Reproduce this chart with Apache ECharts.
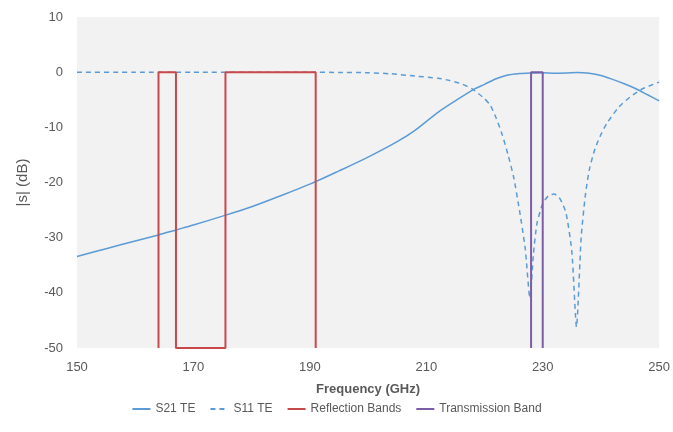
<!DOCTYPE html>
<html>
<head>
<meta charset="utf-8">
<script src="https://cdn.jsdelivr.net/npm/echarts@6/dist/echarts.min.js"></script>
<style>
html,body{margin:0;padding:0;background:#fff;}
#c{width:673px;height:432px;}
</style>
</head>
<body>
<div id="c"></div>
<script>
// Frequency (GHz) and |S| (dB) values
var s21Freq = [150,155,160,164,167,170,175,180,185,190,195,200,205,208,212,215,218,220,222,224,226,228,230,232,234,236,238,240,242,244,246,248,250];
var s21Val  = [-33.4,-32.0,-30.6,-29.5,-28.6,-27.7,-26.1,-24.4,-22.4,-20.3,-17.9,-15.4,-12.6,-10.6,-7.3,-5.2,-3.2,-2.2,-1.2,-0.5,-0.25,-0.15,-0.1,-0.2,-0.15,-0.05,-0.2,-0.6,-1.3,-2.1,-3.0,-4.1,-5.2];

var s11Freq = [150,160,170,180,190,195,200,204,208,212,214,216,218,220,221,222,223,224,225,226,227,227.8,228.4,229,230,231,232,233,234,235,235.8,236.6,237.3,238,239,240,241,243,245,247,249,250];
var s11Val  = [0,0,0,0,0,-0.05,-0.1,-0.3,-0.7,-1.1,-1.5,-2.1,-3.1,-4.8,-6.0,-8.3,-11.2,-14.8,-19.0,-25.0,-32.0,-41.0,-33.0,-27.5,-23.8,-22.4,-22.1,-23.0,-25.5,-32.5,-46.2,-30.0,-22.5,-17.7,-13.8,-11.3,-9.3,-6.4,-4.5,-3.1,-2.2,-1.8];

var reflFreq = [164,164,167,167,175.5,175.5,191,191];
var reflVal  = [-50,0,0,-50,-50,0,0,-50];

var transFreq = [228,228,230,230];
var transVal  = [-50,0,0,-50];

var xTicks = [150,170,190,210,230,250];
var yTicks = [-50,-40,-30,-20,-10,0,10];

function pairs(xs, ys){ return xs.map(function(x,i){ return [x, ys[i]]; }); }

var font = 'Liberation Sans';
var legendNames = ['S21 TE','S11 TE','Reflection Bands','Transmission Band'];
var chart = echarts.init(document.getElementById('c'), null, {renderer:'canvas'});
chart.setOption({
  backgroundColor:'#ffffff',
  animation:false,
  textStyle:{fontFamily:font},
  grid:{left:77,right:13,top:17,bottom:84,show:true,backgroundColor:'#f2f2f2',borderWidth:0},
  xAxis:{
    type:'value', min:xTicks[0], max:xTicks[xTicks.length-1], interval:20,
    name:'Frequency (GHz)', nameLocation:'middle', nameGap:35, nameMoveOverlap:false,
    nameTextStyle:{color:'#595959',fontSize:13,fontWeight:'bold',fontFamily:font},
    axisLine:{show:false}, axisTick:{show:false}, splitLine:{show:false},
    axisLabel:{color:'#595959',fontSize:13,margin:13,fontFamily:font}
  },
  yAxis:{
    type:'value', min:yTicks[0], max:yTicks[yTicks.length-1], interval:10,
    name:'|s| (dB)', nameLocation:'middle', nameGap:47, nameRotate:90, nameMoveOverlap:false,
    nameTextStyle:{color:'#595959',fontSize:15,fontFamily:font},
    axisLine:{show:false}, axisTick:{show:false}, splitLine:{show:false},
    axisLabel:{color:'#595959',fontSize:13,margin:14,fontFamily:font}
  },
  legend:{
    bottom:12, left:'center', itemWidth:18, itemHeight:10, itemGap:14,
    textStyle:{color:'#595959',fontSize:12,fontFamily:font},
    itemStyle:{opacity:0},
    data:legendNames.map(function(n){ return {name:n, itemStyle:{opacity:0}}; })
  },
  series:[
    {name:'S21 TE', type:'line', data:pairs(s21Freq,s21Val), smooth:0.3, symbol:'none',
     lineStyle:{color:'#5b9bd5',width:1.5}, itemStyle:{color:'#5b9bd5'}},
    {name:'S11 TE', type:'line', data:pairs(s11Freq,s11Val), smooth:0.2, symbol:'none',
     lineStyle:{color:'#5b9bd5',width:1.5,type:[5,4]}, itemStyle:{color:'#5b9bd5'}},
    {name:'Reflection Bands', type:'line', data:pairs(reflFreq,reflVal), symbol:'none', clip:false,
     lineStyle:{color:'#c9484a',width:2}, itemStyle:{color:'#c9484a'}},
    {name:'Transmission Band', type:'line', data:pairs(transFreq,transVal), symbol:'none', clip:false,
     lineStyle:{color:'#7b5ea7',width:2}, itemStyle:{color:'#7b5ea7'}}
  ]
});
</script>
</body>
</html>
